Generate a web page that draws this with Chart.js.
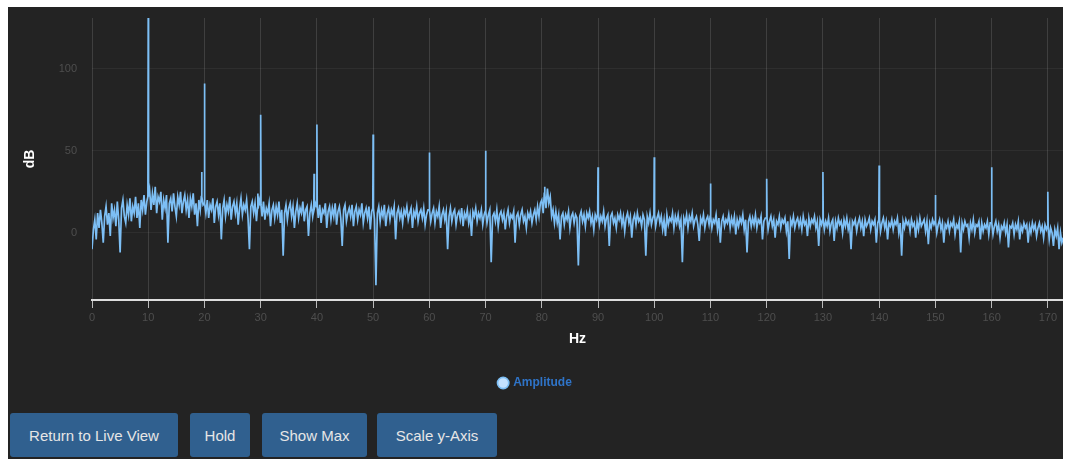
<!DOCTYPE html>
<html>
<head>
<meta charset="utf-8">
<script src="https://cdn.jsdelivr.net/npm/chart.js@4/dist/chart.umd.min.js"></script>
<style>
  html, body { margin: 0; padding: 0; background: #ffffff; width: 1070px; height: 461px; overflow: hidden; }
  #panel { position: absolute; left: 8px; top: 7px; width: 1055px; height: 452px; background: #232323; }
  #chartBox { position: absolute; left: 0; top: 0; width: 1055px; height: 392px; }
  .btn { position: absolute; top: 406px; height: 44px; background: #30608f; color: #e6e6e6;
         font: 15px "Liberation Sans", Arial, sans-serif; border: none; border-radius: 3px;
         display: flex; align-items: center; justify-content: center; }
</style>
</head>
<body>
<div id="panel">
  <div id="chartBox"><canvas id="c"></canvas></div>
  <div class="btn" style="left:2px;width:168px;">Return to Live View</div>
  <div class="btn" style="left:182px;width:60px;">Hold</div>
  <div class="btn" style="left:254px;width:105px;">Show Max</div>
  <div class="btn" style="left:369px;width:120px;">Scale y-Axis</div>
</div>
<script>
// ---- data ----
const seriesLabel = "Amplitude";
const noiseStepHz = 0.25;                // spacing of the noise-floor samples
const noiseDb = [
  -10, 2, 8, -4, 12, 3, 14, 6, -6, 10, 16, 5, 12, -2, 18, 9, 14, 4, 19, 8,
  -12, 15, 20, 10, 6, 17, 11, 21, 7, 16, 12, 22, 9, 18, 3, 20, 14, 23, 11, 19,
  22, 26, 14, 24, 17, 28, 12, 22, 19, 25, 8, 20, 15, 23, -6, 18, 21, 13, 24, 16,
  10, 22, 17, 25, 12, 19, 23, 14, 20, 9, 21, 16, 24, 11, 18, 4, 20, 14, 22, 17,
  18, 12, 20, 9, 17, 14, 21, 6, 16, 19, 11, 18, -4, 15, 20, 10, 17, 13, 22, 8,
  16, 19, 12, 18, 5, 15, 21, 11, 17, 14, 20, 9, -10, 16, 19, 12, 18, 7, 15, 20,
  17, 10, 19, 8, 15, 12, 18, 4, 14, 17, 9, 16, 11, 19, 6, 14, -14, 12, 17, 8,
  15, 18, 10, 16, 3, 13, 18, 9, 15, 12, 19, 7, 14, 16, -2, 12, 17, 10, 15, 18,
  16, 9, 17, 6, 14, 12, 18, 3, 13, 16, 8, 15, 10, 18, 5, 13, 16, 9, -8, 14,
  17, 7, 12, 15, 10, 17, 4, 13, 16, 8, 14, 11, 18, 6, 12, 15, 9, 16, 2, 13,
  15, 8, -32, 12, 16, 7, 14, 10, 17, 4, 12, 15, 8, 14, 11, 16, -4, 12, 15, 9,
  13, 6, 14, 11, 16, 8, 12, 15, 3, 13, 10, 16, 7, 12, 14, 9, 15, 5, 11, 14,
  14, 7, 12, 15, 6, 13, 10, 16, 3, 11, 14, 8, 13, -10, 10, 15, 7, 12, 14, 5,
  11, 13, 8, 15, 4, 12, 9, 14, 6, 11, -2, 13, 10, 15, 7, 12, 9, 14, 5, 11,
  13, 6, 11, 14, -18, 10, 12, 7, 14, 4, 11, 13, 8, 12, 2, 10, 14, 6, 11, 9,
  13, -6, 10, 12, 5, 11, 14, 7, 10, 3, 12, 9, 13, 6, 11, 14, 8, 16, 10, 18,
  20, 12, 24, 15, 27, 18, 22, 10, 14, 6, 13, 6, 11, -4, 10, 12, 5, 11, 8, 13,
  3, 10, 12, 6, 11, 9, -20, 10, 13, 7, 11, 4, 12, 9, 13, 6, 10, 2, 11, 8,
  12, 5, 10, 7, 13, 4, 9, 11, -8, 10, 12, 6, 9, 3, 11, 8, 12, 5, 10, 1,
  9, 12, 6, 10, -3, 8, 11, 5, 12, 7, 9, 4, 11, 8, -14, 10, 6, 12, 5, 9,
  11, 4, 9, 12, 6, 10, 2, 8, -2, 11, 5, 9, 7, 12, 3, 10, 6, 11, 4, 8,
  -18, 9, 6, 11, 3, 10, 7, 12, 4, 8, 10, 5, -5, 9, 6, 11, 3, 8, 10, 5,
  10, 3, 8, 6, 11, 2, 9, -6, 7, 10, 4, 8, 6, 11, 3, 9, 5, 10, -1, 8,
  4, 9, 6, 11, 2, 8, -12, 7, 10, 4, 9, 5, 11, 3, 8, 6, 10, -4, 7, 9,
  9, 2, 7, 10, 4, 8, -3, 7, 5, 10, 3, 8, 6, 9, 1, 7, -16, 8, 5, 10,
  3, 7, 9, 4, 8, 2, 10, 5, 7, -2, 9, 4, 8, 6, 10, 3, 7, -8, 8, 5,
  8, 2, 7, 4, 9, 1, 6, 8, -5, 7, 3, 9, 5, 7, 0, 8, 4, 9, 2, 6,
  -10, 7, 5, 8, 1, 6, 9, 3, 7, -2, 8, 4, 6, 9, 2, 7, 5, 8, -6, 6,
  8, 1, 6, 9, 3, 7, -4, 6, 4, 8, 2, 7, 5, 9, 0, 6, -14, 7, 3, 8,
  5, 7, 1, 8, 4, 6, -3, 7, 2, 9, 4, 6, 8, 1, 7, -7, 6, 3, 8, 5,
  7, 0, 5, 8, 2, 6, -6, 5, 3, 7, 1, 6, 4, 8, -1, 5, 3, 7, -12, 6,
  2, 7, 4, 5, -3, 6, 2, 8, 0, 5, 4, 7, -4, 6, 1, 5, 3, 7, -1, 6,
  6, -1, 4, 7, 1, 5, -3, 4, 2, 6, 0, 5, -9, 4, 3, 6, -1, 5, 2, 7,
  -4, 4, 1, 6, 3, 5, -6, 4, 0, 6, 2, 5, -2, 3, 6, 1, 4, -3, 5, 2,
  4, -4, 3, 0, -8, 2, -2, 3, -10, 0, -6, -3
];
const peakHz = [10, 19.5, 20, 29.5, 30, 39.5, 40, 50, 60, 70, 80.5, 90, 100, 110, 120, 130, 140, 150, 160, 170];
const peakDb = [131, 37, 91, 24, 72, 36, 66, 60, 49, 50, 28, 40, 46, 30, 33, 37, 41, 23, 40, 25];
const xTickStepHz = 10;
const yTickStepDb = 50;
const xMaxHz = 172.7;
const yMinDb = -41, yMaxDb = 131;

// ---- build the point list for the library ----
const peakMap = {};
peakHz.forEach((f, i) => { peakMap[Math.round(f / noiseStepHz)] = peakDb[i]; });
const points = [];
noiseDb.forEach((v, i) => {
  const f = i * noiseStepHz;
  const p = peakMap[i];
  if (p !== undefined) {
    points.push({x: f - 0.06, y: v});
    points.push({x: f, y: p});
    points.push({x: f + 0.06, y: v});
  } else {
    points.push({x: f, y: v});
  }
});

const FONT = '"Liberation Sans", Arial, sans-serif';
new Chart(document.getElementById('c'), {
  type: 'line',
  data: {
    datasets: [{
      label: seriesLabel,
      data: points,
      borderColor: '#7dbff5',
      backgroundColor: '#c4e2ff',
      borderWidth: 1.7,
      pointRadius: 0,
      tension: 0,
      fill: false
    }]
  },
  options: {
    animation: false,
    responsive: true,
    maintainAspectRatio: false,
    layout: { padding: { left: 0, right: 0, top: 11, bottom: 0 } },
    plugins: {
      tooltip: { enabled: false },
      legend: {
        position: 'bottom',
        labels: {
          usePointStyle: true,
          pointStyle: 'circle',
          boxWidth: 8, boxHeight: 8,
          color: '#2f74c8',
          font: { family: FONT, size: 12, weight: 'bold' }
        }
      }
    },
    scales: {
      x: {
        type: 'linear',
        min: 0, max: xMaxHz,
        border: { display: true, color: '#dddddd', width: 2 },
        grid: { color: 'rgba(255,255,255,0.13)', tickColor: '#bbbbbb', tickLength: 8, lineWidth: 1 },
        ticks: { stepSize: xTickStepHz, includeBounds: false, color: '#4e4e4e', maxRotation: 0,
                 font: { family: FONT, size: 11 } },
        title: { display: true, text: 'Hz', color: '#ffffff', padding: { top: 4, bottom: 19 },
                 font: { family: FONT, size: 14, weight: 'bold' } }
      },
      y: {
        min: yMinDb, max: yMaxDb,
        border: { display: false },
        grid: { color: 'rgba(255,255,255,0.05)', drawTicks: true, tickLength: 12, tickColor: 'rgba(0,0,0,0)' },
        ticks: { stepSize: yTickStepDb, includeBounds: false, color: '#4e4e4e', padding: 3,
                 font: { family: FONT, size: 11 } },
        title: { display: true, text: 'dB', color: '#ffffff', padding: { top: 14, bottom: 0 },
                 font: { family: FONT, size: 14, weight: 'bold' } },
        afterFit: (s) => { s.width = 84; }
      }
    }
  }
});
</script>
</body>
</html>
